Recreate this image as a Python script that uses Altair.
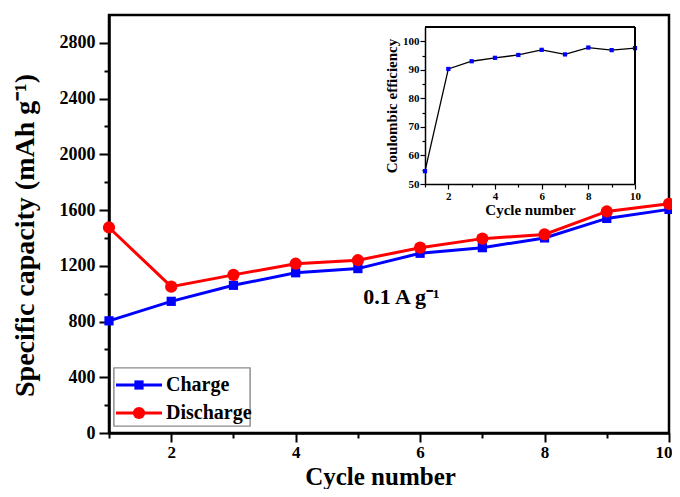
import altair as alt
import pandas as pd

# ---- data ----
cycles = [1, 2, 3, 4, 5, 6, 7, 8, 9, 10]
charge = [805, 945, 1060, 1150, 1180, 1290, 1330, 1400, 1540, 1605]
discharge = [1475, 1050, 1135, 1215, 1240, 1330, 1395, 1425, 1590, 1645]
coulombic = [54.5, 90.3, 93.0, 94.2, 95.2, 97.0, 95.4, 97.8, 96.9, 97.6]
series = ["Charge", "Discharge"]
colors = ["#0000FF", "#FF0000"]
shapes = ["square", "circle"]
x_ticks = [1, 2, 3, 4, 5, 6, 7, 8, 9, 10]
y_ticks = list(range(0, 2801, 200))
inset_y_ticks = list(range(50, 101, 5))
annotation = ["0.1 A g\u207b\u00b9"]

FONT = "Liberation Serif"
W, H = 560, 418

df = pd.DataFrame({
    "cycle": cycles * 2,
    "cap": charge + discharge,
    "series": [series[0]] * len(cycles) + [series[1]] * len(cycles),
})
ce_df = pd.DataFrame({"cycle": cycles, "ce": coulombic})
ann_df = pd.DataFrame({"cycle": [5.7], "cap": [975], "text": annotation})

# ---- main plot ----
xs = alt.Scale(domain=[1, 10], nice=False, zero=False)
ys = alt.Scale(domain=[0, 3000], nice=False)

x_axis = alt.Axis(
    title="Cycle number", values=x_ticks, orient="bottom", format="d",
    labelExpr="datum.value % 2 === 0 ? datum.label : ''",
    tickSize={"condition": {"test": "datum.value % 2 === 0", "value": 9}, "value": 5},
    labelFontSize=17, titleFontSize=25, labelPadding=2,
    titleX=271, titleY=51, titleBaseline="alphabetic",
    labelFlush=True, labelFlushOffset=3, labelOverlap=False, grid=False,
)
y_axis = alt.Axis(
    title="Specific capacity (mAh g\u207b\u00b9)", values=y_ticks, orient="left", format="d",
    labelExpr="datum.value % 400 === 0 ? datum.label : ''",
    tickSize={"condition": {"test": "datum.value % 400 === 0", "value": 10}, "value": 5},
    labelFontSize=18, titleFontSize=28, labelPadding=4, titlePadding=20, titleY=220,
    labelFlush=False, labelOverlap=False, grid=False,
)

base = alt.Chart(df).encode(
    x=alt.X("cycle:Q", scale=xs, axis=x_axis),
    y=alt.Y("cap:Q", scale=ys, axis=y_axis),
    color=alt.Color("series:N", scale=alt.Scale(domain=series, range=colors), legend=None),
)
lines = base.mark_line(strokeWidth=3)
points = base.mark_point(filled=True, opacity=1).encode(
    shape=alt.Shape("series:N", scale=alt.Scale(domain=series, range=shapes), legend=None),
    size=alt.Size("series:O", scale=alt.Scale(domain=series, range=[85, 150]), legend=None),
)
ann = alt.Chart(ann_df).mark_text(
    font=FONT, fontWeight="bold", fontSize=22, color="black"
).encode(
    x=alt.X("cycle:Q", scale=xs, axis=x_axis),
    y=alt.Y("cap:Q", scale=ys, axis=y_axis),
    text="text:N",
)
main = alt.layer(lines, points, ann)

# ---- inset ----
ixs = alt.Scale(domain=[1, 10], range=[316, 526], nice=False, zero=False)
iys = alt.Scale(domain=[50, 105], range=[169, 12], nice=False, zero=False)
ix_axis = alt.Axis(
    title="Cycle number", values=x_ticks, orient="bottom", offset=-(H - 169),
    labelExpr="datum.value % 2 === 0 ? datum.label : ''",
    tickSize={"condition": {"test": "datum.value % 2 === 0", "value": 5}, "value": 3},
    labelFontSize=11, titleFontSize=15, labelPadding=1, titlePadding=1,
    domainWidth=1.5, tickWidth=1.2, labelFlush=False, labelOverlap=False, grid=False,
)
iy_axis = alt.Axis(
    title="Coulombic efficiency", values=inset_y_ticks, orient="left", offset=-316,
    labelExpr="datum.value % 10 === 0 ? datum.label : ''",
    tickSize={"condition": {"test": "datum.value % 10 === 0", "value": 5}, "value": 3},
    labelFontSize=11, titleFontSize=15, labelPadding=1, titlePadding=3,
    domainWidth=1.5, tickWidth=1.2, labelFlush=False, labelOverlap=False, grid=False,
)
ibase = alt.Chart(ce_df).encode(
    x=alt.X("cycle:Q", scale=ixs, axis=ix_axis),
    y=alt.Y("ce:Q", scale=iys, axis=iy_axis),
)
iline = ibase.mark_line(color="black", strokeWidth=1.3)
ipts = ibase.mark_point(shape="square", filled=True, color="#0000FF", size=18, opacity=1)
itop = alt.Chart(ce_df).mark_rule(color="black", strokeWidth=1.5).encode(
    x=alt.datum(1, scale=ixs, axis=ix_axis), x2=alt.datum(10), y=alt.datum(105, scale=iys, axis=iy_axis)
)
iright = alt.Chart(ce_df).mark_rule(color="black", strokeWidth=1.5).encode(
    x=alt.datum(10, scale=ixs, axis=ix_axis), y=alt.datum(50, scale=iys, axis=iy_axis), y2=alt.datum(105)
)
inset = alt.layer(iline, ipts, itop, iright)

# ---- legend (drawn by hand) ----
leg_df = pd.DataFrame({"series": series, "row": [0, 1]})
leg_box = alt.Chart(leg_df).mark_rect(
    fill="white", stroke="#8a8a8a", strokeWidth=1.2
).encode(x=alt.value(5), x2=alt.value(141), y=alt.value(353), y2=alt.value(411))
leg_parts = []
for i, (s, c, sh, sz) in enumerate(zip(series, colors, shapes, [85, 150])):
    yy = 370 + 28 * i
    one = alt.Chart(leg_df[leg_df.series == s])
    leg_parts.append(one.mark_rule(color=c, strokeWidth=3).encode(
        x=alt.value(7), x2=alt.value(53), y=alt.value(yy)))
    leg_parts.append(one.mark_point(shape=sh, filled=True, color=c, size=sz, opacity=1).encode(
        x=alt.value(30), y=alt.value(yy)))
    leg_parts.append(one.mark_text(
        font=FONT, fontWeight="bold", fontSize=20, align="left", baseline="middle", color="black"
    ).encode(x=alt.value(57), y=alt.value(yy), text="series:N"))
legend = alt.layer(leg_box, *leg_parts)

chart = alt.layer(main, inset, legend).resolve_scale(
    x="independent", y="independent"
).properties(
    width=W, height=H,
    padding={"left": 101, "top": 7, "right": 3, "bottom": 56},
    autosize=alt.AutoSizeParams(type="none"),
    background="white",
).configure_view(
    stroke="black", strokeWidth=2.5
).configure_axis(
    domainColor="black", domainWidth=2.5, tickColor="black", tickWidth=2,
    labelFont=FONT, titleFont=FONT, labelFontWeight="bold", titleFontWeight="bold",
    labelColor="black", titleColor="black",
)

chart.save("out.html", embed_options={"renderer": "svg", "actions": False})
